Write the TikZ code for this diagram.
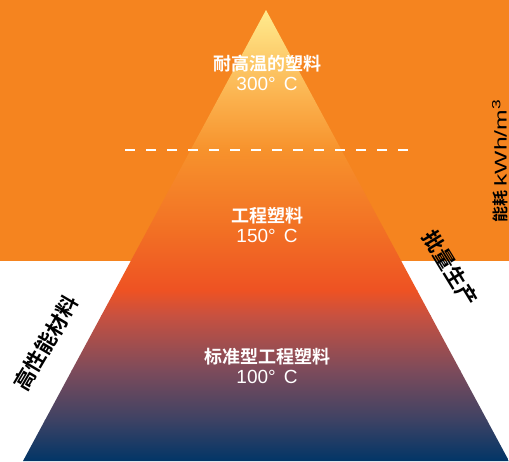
\documentclass[tikz,border=0pt]{standalone}
\usepackage{fontspec}
\setmainfont{Liberation Sans}
\newfontfamily\cjk{Noto Sans CJK SC}[BoldFont={Noto Sans CJK SC Bold}]
\definecolor{bgor}{HTML}{F5841F}
\definecolor{c0}{HTML}{FFEC8F}
\definecolor{c1}{HTML}{FBB04C}
\definecolor{c2}{HTML}{F7922C}
\definecolor{c3}{HTML}{F27024}
\definecolor{c4}{HTML}{EE5223}
\definecolor{c5}{HTML}{C85140}
\definecolor{c6}{HTML}{7D4B5B}
\definecolor{c7}{HTML}{3D4264}
\definecolor{c8}{HTML}{003567}
\tikzset{
  lvl/.style={text=white,align=center,font=\fontsize{19}{20}\selectfont},
  side/.style={text=black,inner sep=0pt,font=\cjk\bfseries\fontsize{21}{22}\selectfont},
}
\newcommand{\zh}[1]{{\cjk\bfseries\fontsize{18}{20}\selectfont #1}}
\newcommand{\degc}[1]{#1°\hspace{8pt}C}
\begin{document}
\begin{tikzpicture}[x=1pt,y=-1pt]
\useasboundingbox (0,0) rectangle (509,461);
\fill[white] (0,0) rectangle (509,461);
\fill[bgor] (0,0) rectangle (509,261);
\coordinate (apex) at (266,10);
\coordinate (bl) at (23,461);
\coordinate (br) at (509,461);
\begin{scope}
\clip (apex) -- (bl) -- (br) -- cycle;
\shade[top color=c0,bottom color=c1] (0,9) rectangle (509,100.5);
\shade[top color=c1,bottom color=c2] (0,100) rectangle (509,150.5);
\shade[top color=c2,bottom color=c3] (0,150) rectangle (509,230.5);
\shade[top color=c3,bottom color=c4] (0,230) rectangle (509,290.5);
\shade[top color=c4,bottom color=c5] (0,290) rectangle (509,315.5);
\shade[top color=c5,bottom color=c6] (0,315) rectangle (509,370.5);
\shade[top color=c6,bottom color=c7] (0,370) rectangle (509,420.5);
\shade[top color=c7,bottom color=c8] (0,420) rectangle (509,462);
\end{scope}
\coordinate (dl) at (125,150);
\coordinate (dr) at (412,150);
\draw[white,line width=2.5pt,dash pattern=on 10pt off 11pt] (dl) -- (dr);
\node[lvl] (t1) at (267,73) {\zh{耐高温的塑料}\\\degc{300}};
\node[lvl] (t2) at (267,225) {\zh{工程塑料}\\\degc{150}};
\node[lvl] (t3) at (267,366) {\zh{标准型工程塑料}\\\degc{100}};
\node[side,rotate=59.5] (lside) at (46,343) {高性能材料};
\node[side,rotate=-58.5] (rside) at (450,268) {批量生产};
\node[text=black,rotate=90,inner sep=0pt] (unit) at (500,161) {{\cjk\bfseries\fontsize{16}{17}\selectfont 能耗}\hspace{4pt}\scalebox{1.45}[1]{\fontsize{17}{18}\selectfont kWh/m\textsuperscript{3}}};
\end{tikzpicture}
\end{document}
